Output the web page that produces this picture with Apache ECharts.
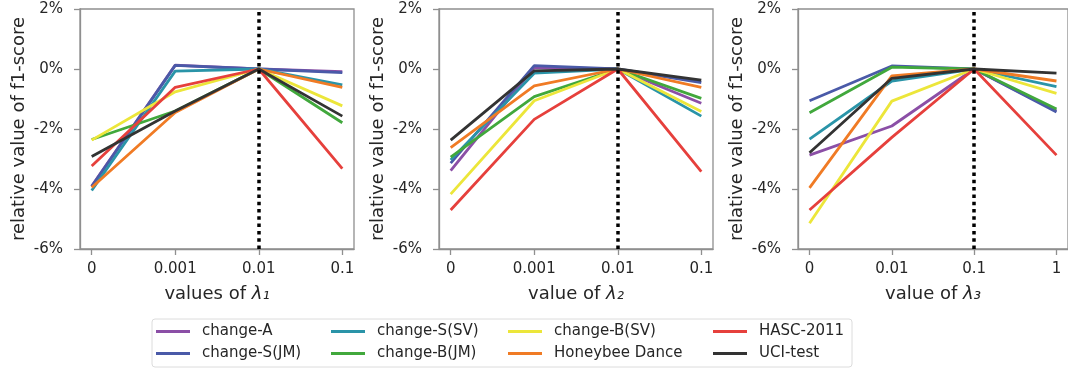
<!DOCTYPE html>
<html>
<head>
<meta charset="utf-8">
<script src="https://cdn.jsdelivr.net/npm/echarts@6/dist/echarts.min.js"></script>
<style>
  html, body { margin: 0; padding: 0; background: #fff; }
  #chart { width: 1068px; height: 370px; }
</style>
</head>
<body>
<div id="chart"></div>
<script>
'use strict'

// methods, in plotting order
const methods = ['change-A', 'change-S(JM)', 'change-S(SV)', 'change-B(JM)', 'change-B(SV)', 'Honeybee Dance', 'HASC-2011', 'UCI-test']
const colors = ['#8b4fa6', '#4a5aa8', '#2a94a8', '#41a83c', '#ece63a', '#f07b25', '#e6403c', '#333333']

// tick labels of the three panels
const lambda1Ticks = ['0', '0.001', '0.01', '0.1']
const lambda2Ticks = ['0', '0.001', '0.01', '0.1']
const lambda3Ticks = ['0', '0.01', '0.1', '1']
const yTicks = [-6, -4, -2, 0, 2]

// relative f1-score (%), one row per method
const lambda1Values = [
    [-3.90, 0.13, 0, -0.09],
    [-3.92, 0.12, 0, -0.12],
    [-4.05, -0.07, 0, -0.53],
    [-2.35, -1.40, 0, -1.79],
    [-2.37, -0.76, 0, -1.23],
    [-3.95, -1.45, 0, -0.61],
    [-3.23, -0.61, 0, -3.32],
    [-2.92, -1.40, 0, -1.57]
]
const lambda2Values = [
    [-3.39, 0.05, 0, -1.14],
    [-3.14, 0.11, 0, -0.45],
    [-3.03, -0.14, 0, -1.57],
    [-2.94, -0.92, 0, -0.98],
    [-4.17, -1.06, 0, -1.42],
    [-2.62, -0.56, 0, -0.61],
    [-4.70, -1.68, 0, -3.42],
    [-2.37, -0.06, 0, -0.37]
]
const lambda3Values = [
    [-2.87, -1.90, 0, -1.40],
    [-1.06, 0.10, 0, -1.43],
    [-2.34, -0.40, 0, -0.59],
    [-1.46, 0.06, 0, -1.33],
    [-5.14, -1.07, 0, -0.81],
    [-3.96, -0.23, 0, -0.40],
    [-4.70, -2.28, 0, -2.87],
    [-2.79, -0.31, 0, -0.14]
]
// index of the chosen value (dotted line)
const chosenIndex = 2

const font = 'DejaVu Sans'
const textColor = '#262626'
const spine = '#8f8f8f'

const panels = [
    { ticks: lambda1Ticks, values: lambda1Values, name: 'values of {l|λ₁}', left: 80 },
    { ticks: lambda2Ticks, values: lambda2Values, name: 'value of {l|λ₂}', left: 439 },
    { ticks: lambda3Ticks, values: lambda3Values, name: 'value of {l|λ₃}', left: 798 }
]

const grid = panels.map(p => ({
    left: p.left, top: 9, width: 274, height: 240,
    show: true, borderColor: spine, borderWidth: 1.3
}))

const xAxis = panels.map((p, k) => ({
    type: 'value',
    gridIndex: k,
    min: -0.14,
    max: 3.14,
    splitLine: { show: false },
    axisLine: { show: true, onZero: false, lineStyle: { color: spine, width: 1.3 } },
    axisTick: { show: true, length: 6, lineStyle: { color: spine, width: 1.3 }, customValues: [0, 1, 2, 3] },
    axisLabel: {
        customValues: [0, 1, 2, 3],
        formatter: v => p.ticks[Math.round(v)],
        color: textColor, fontFamily: font, fontSize: 15, margin: 13
    },
    name: p.name,
    nameLocation: 'middle',
    nameGap: 36,
    nameTextStyle: {
        color: textColor, fontFamily: font, fontSize: 18,
        rich: { l: { fontStyle: 'italic', fontFamily: font, fontSize: 18, color: textColor } }
    }
}))

const yAxis = panels.map((p, k) => ({
    type: 'value',
    gridIndex: k,
    min: yTicks[0],
    max: yTicks[yTicks.length - 1],
    interval: 2,
    splitLine: { show: false },
    axisLine: { show: true, onZero: false, lineStyle: { color: spine, width: 1.3 } },
    axisTick: { show: true, length: 6, lineStyle: { color: spine, width: 1.3 } },
    axisLabel: {
        formatter: v => v + '%',
        color: textColor, fontFamily: font, fontSize: 15, margin: 17
    },
    name: 'relative value of f1-score',
    nameLocation: 'middle',
    nameGap: 52,
    nameTextStyle: { color: textColor, fontFamily: font, fontSize: 18 }
}))

const series = []
panels.forEach((p, k) => {
    p.values.forEach((vals, m) => {
        let obj = {
            type: 'line',
            name: methods[m],
            xAxisIndex: k,
            yAxisIndex: k,
            symbol: 'none',
            silent: true,
            animation: false,
            color: colors[m],
            lineStyle: { width: 2.8, color: colors[m] },
            data: vals.map((v, i) => [i, v])
        }
        if (m === methods.length - 1) {
            obj.markLine = {
                silent: true,
                symbol: 'none',
                label: { show: false },
                lineStyle: { color: '#000', width: 3.5, type: [3.5, 3.8] },
                data: [{ xAxis: chosenIndex }],
                z: 10
            }
        }
        series.push(obj)
    })
})

const legendLefts = [156, 331, 508, 713]
const legend = legendLefts.map((l, c) => ({
    orient: 'vertical',
    left: l,
    top: 324,
    padding: 0,
    icon: 'rect',
    itemWidth: 34,
    itemHeight: 3,
    itemGap: 7,
    selectedMode: false,
    data: methods.slice(c * 2, c * 2 + 2),
    textStyle: { color: textColor, fontFamily: font, fontSize: 15, lineHeight: 14, padding: [0, 0, 0, 7] }
}))

const option = {
    animation: false,
    backgroundColor: '#fff',
    grid: grid,
    xAxis: xAxis,
    yAxis: yAxis,
    legend: legend,
    graphic: [{
        type: 'rect',
        shape: { x: 152, y: 319, width: 700, height: 48, r: 3 },
        style: { fill: '#fff', stroke: '#dcdcdc', lineWidth: 1 },
        z: -1
    }],
    series: series
}

let myChart = echarts.init(document.getElementById('chart'))
myChart.setOption(option)
</script>
</body>
</html>
